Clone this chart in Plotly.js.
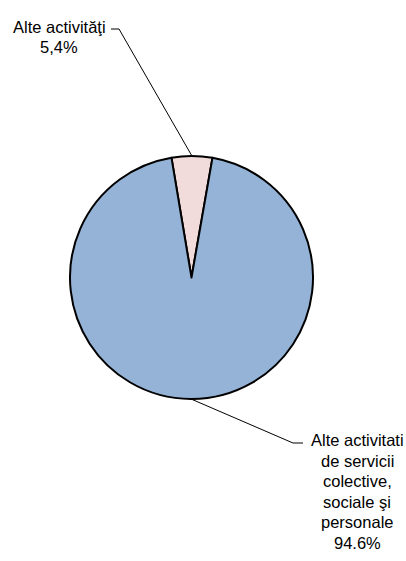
<!DOCTYPE html>
<html>
<head>
<meta charset="utf-8">
<script src="https://cdn.plot.ly/plotly-3.0.1.min.js"></script>
<style>
  html, body { margin: 0; padding: 0; background: #ffffff; }
  #chart { width: 406px; height: 561px; }
</style>
</head>
<body>
<div id="chart"></div>
<script>
// ---- data ----
const categories = ["Alte activităţi", "Alte activitati de servicii colective, sociale şi personale"];
const values = [5.4, 94.6];
const valueLabels = ["5,4%", "94.6%"];
const sliceColors = ["#F2DCDB", "#95B3D7"];
const topLabelLines = ["Alte activităţi", "5,4%"];
const bottomLabelLines = ["Alte activitati", "de servicii", "colective,", "sociale şi", "personale", "94.6%"];

// ---- layout constants ----
const W = 406, H = 561;
const cx = 191.5, cy = 277.5, r = 121.5;
const rotation = -9.5;
const FONT = { family: "'Liberation Sans Narrow', 'Arial Narrow', 'Liberation Sans', Arial, sans-serif", size: 16.5, color: "#000000" };

const px = x => x / W;
const py = y => 1 - y / H;

// mid angles of slices (clockwise from 12 o'clock)
const total = values.reduce((a, b) => a + b, 0);
let acc = 0;
const midAngles = values.map(v => {
  const a = rotation + (acc + v / 2) / total * 360;
  acc += v;
  return a;
});
const edgePoint = ang => {
  const t = ang * Math.PI / 180;
  return [cx + r * Math.sin(t), cy - r * Math.cos(t)];
};
const e0 = edgePoint(midAngles[0]);
const e1 = edgePoint(midAngles[1]);

const shapes = [
  { type: "path", xref: "paper", yref: "paper",
    path: `M ${px(e0[0])},${py(e0[1])} L ${px(119)},${py(29)} L ${px(111)},${py(29)}`,
    line: { color: "#000000", width: 1 } },
  { type: "path", xref: "paper", yref: "paper",
    path: `M ${px(e1[0])},${py(e1[1])} L ${px(293)},${py(443)} L ${px(303)},${py(443)}`,
    line: { color: "#000000", width: 1 } }
];

const annotations = [];
const topY = [26.5, 46.5];
const topX = [59.5, 59];
topLabelLines.forEach((t, i) => annotations.push({
  text: t, x: px(topX[i]), y: py(topY[i]), xref: "paper", yref: "paper",
  xanchor: "center", yanchor: "middle", showarrow: false, font: FONT
}));
const botY = [440, 460.5, 481, 501.5, 522, 542.5];
bottomLabelLines.forEach((t, i) => annotations.push({
  text: t, x: px(357), y: py(botY[i]), xref: "paper", yref: "paper",
  xanchor: "center", yanchor: "middle", showarrow: false, font: FONT
}));

const trace = {
  type: "pie",
  labels: categories,
  values: values,
  text: valueLabels,
  sort: false,
  direction: "clockwise",
  rotation: rotation,
  textinfo: "none",
  hoverinfo: "label+text",
  marker: { colors: sliceColors, line: { color: "#000000", width: 2 } },
  domain: { x: [px(cx - r), px(cx + r)], y: [py(cy + r), py(cy - r)] }
};

const layout = {
  width: W, height: H,
  margin: { l: 0, r: 0, t: 0, b: 0, pad: 0 },
  showlegend: false,
  paper_bgcolor: "#ffffff",
  plot_bgcolor: "#ffffff",
  shapes: shapes,
  annotations: annotations,
  font: FONT
};

Plotly.newPlot("chart", [trace], layout, { staticPlot: true, displayModeBar: false });
</script>
</body>
</html>
